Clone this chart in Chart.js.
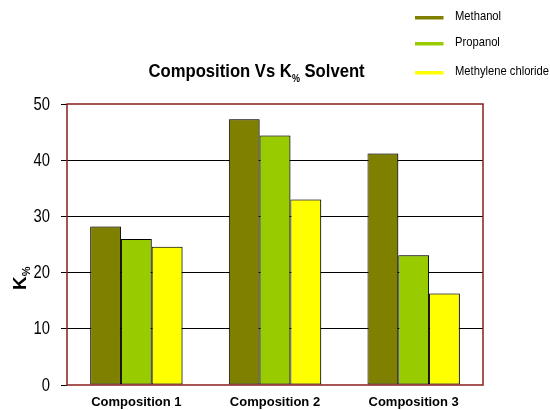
<!DOCTYPE html>
<html>
<head>
<meta charset="utf-8">
<script src="https://cdn.jsdelivr.net/npm/chart.js@4/dist/chart.umd.min.js"></script>
<style>
  html, body { margin: 0; padding: 0; background: #fff; }
  #c { display: block; }
</style>
</head>
<body>
<canvas id="c" width="550" height="410"></canvas>
<script>
// Categories and series
const categories = ['Composition 1', 'Composition 2', 'Composition 3'];
const methanol = [28.2, 47.3, 41.2];
const propanol = [26.0, 44.4, 23.1];
const methyleneChloride = [24.6, 33.0, 16.3];
const seriesNames = ['Methanol', 'Propanol', 'Methylene chloride'];
const yTicks = [0, 10, 20, 30, 40, 50];

const SANS = "'Liberation Sans', Arial, sans-serif";
const FRAME = '#8b1c1c';

// Draws text squeezed horizontally (condensed look)
function condensedText(ctx, text, x, y, font, sx, align) {
  ctx.save();
  ctx.font = font;
  const w = ctx.measureText(text).width * sx;
  const left = align === 'right' ? x - w : (align === 'center' ? x - w / 2 : x);
  ctx.translate(left, y);
  ctx.scale(sx, 1);
  ctx.textAlign = 'left';
  ctx.fillText(text, 0, 0);
  ctx.restore();
}

// Title with a subscripted "%" drawn in pieces
const titlePlugin = {
  id: 'subTitle',
  afterDraw(chart) {
    const ctx = chart.ctx;
    const sx = 0.9;
    ctx.save();
    ctx.fillStyle = '#000';
    ctx.textBaseline = 'alphabetic';
    ctx.textAlign = 'left';
    ctx.translate(148.5, 0);
    ctx.scale(sx, 1);
    let x = 0;
    ctx.font = 'bold 18.5px ' + SANS;
    ctx.fillText('Composition Vs K', x, 77);
    x += ctx.measureText('Composition Vs K').width;
    ctx.font = 'bold 10px ' + SANS;
    ctx.fillText('%', x, 82);
    x += ctx.measureText('%').width;
    ctx.font = 'bold 18.5px ' + SANS;
    ctx.fillText(' Solvent', x, 77);
    ctx.restore();

    // Rotated axis title "K%"
    ctx.save();
    ctx.fillStyle = '#000';
    ctx.translate(26, 290);
    ctx.rotate(-Math.PI / 2);
    ctx.font = 'bold 19px ' + SANS;
    ctx.fillText('K', 0, 0);
    const kw = ctx.measureText('K').width;
    ctx.font = 'bold 11px ' + SANS;
    ctx.fillText('%', kw, 4);
    ctx.restore();
  }
};

// Y tick labels in a condensed face, placed through the y scale
const yLabelPlugin = {
  id: 'yLabels',
  afterDraw(chart) {
    const ctx = chart.ctx;
    const y = chart.scales.y;
    ctx.save();
    ctx.fillStyle = '#000';
    ctx.textBaseline = 'middle';
    yTicks.forEach(v => {
      condensedText(ctx, String(v), 50, y.getPixelForValue(v) + 0.5, '18.5px ' + SANS, 0.8, 'right');
    });
    ctx.restore();
  }
};

// Legend: short thick line markers stacked at the top right
const legendPlugin = {
  id: 'lineLegend',
  afterDraw(chart) {
    const ctx = chart.ctx;
    const rows = [16.5, 42.5, 71.5];
    ctx.save();
    chart.data.datasets.forEach((ds, i) => {
      const y = rows[i];
      ctx.fillStyle = ds.backgroundColor;
      ctx.fillRect(415, y - 0.5, 28.5, 3.5);
      ctx.fillStyle = '#000';
      ctx.textBaseline = 'middle';
      condensedText(ctx, ds.label, 455, y, '13.5px ' + SANS, 0.83, 'left');
    });
    ctx.restore();
  }
};

// Bar drop shadow and the maroon plot frame
const framePlugin = {
  id: 'plotFrame',
  beforeDatasetsDraw(chart) {
    const ctx = chart.ctx;
    ctx.save();
    ctx.shadowColor = 'rgba(0,0,0,0.35)';
    ctx.shadowOffsetX = 1.5;
    ctx.shadowOffsetY = 0;
    ctx.shadowBlur = 0;
  },
  afterDatasetsDraw(chart) {
    const ctx = chart.ctx;
    ctx.restore();
    const a = chart.chartArea;
    ctx.save();
    ctx.strokeStyle = FRAME;
    ctx.lineWidth = 1.5;
    ctx.strokeRect(a.left, a.top, a.right - a.left, a.bottom - a.top);
    ctx.restore();
  }
};

new Chart(document.getElementById('c'), {
  type: 'bar',
  data: {
    labels: categories,
    datasets: [
      { label: seriesNames[0], data: methanol, backgroundColor: '#808000' },
      { label: seriesNames[1], data: propanol, backgroundColor: '#99cc00' },
      { label: seriesNames[2], data: methyleneChloride, backgroundColor: '#ffff00' }
    ].map(d => Object.assign(d, { borderColor: '#000', borderWidth: 1, borderSkipped: false }))
  },
  options: {
    responsive: false,
    devicePixelRatio: 1,
    animation: false,
    layout: { padding: { top: 104, right: 67, left: 0, bottom: 0 } },
    datasets: { bar: { categoryPercentage: 0.666, barPercentage: 1 } },
    plugins: {
      legend: { display: false },
      title: { display: false },
      tooltip: { enabled: false }
    },
    scales: {
      x: {
        grid: { display: false, drawTicks: false },
        border: { display: false },
        ticks: { color: '#000', padding: 10, font: { family: SANS, size: 13, weight: 'bold' }, maxRotation: 0 },
        afterFit(s) { s.height = 25; }
      },
      y: {
        min: 0,
        max: 50,
        afterBuildTicks(s) { s.ticks = yTicks.map(v => ({ value: v })); },
        grid: {
          color: c => (c.tick && (c.tick.value === 0 || c.tick.value === 50)) ? 'rgba(0,0,0,0)' : '#000',
          tickColor: '#000',
          tickLength: 6,
          lineWidth: 1
        },
        border: { display: false },
        ticks: { display: false },
        afterFit(s) { s.width = 67; }
      }
    }
  },
  plugins: [framePlugin, titlePlugin, yLabelPlugin, legendPlugin]
});
</script>
</body>
</html>
